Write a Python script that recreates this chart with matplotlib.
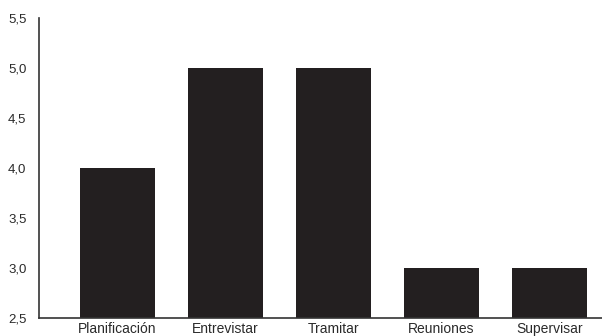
import matplotlib
matplotlib.use("Agg")
import matplotlib.pyplot as plt

categories = ["Planificación", "Entrevistar", "Tramitar", "Reuniones", "Supervisar"]
values = [4.0, 5.0, 5.0, 3.0, 3.0]
yticks = [2.5, 3.0, 3.5, 4.0, 4.5, 5.0, 5.5]
ytick_labels = ["2,5", "3,0", "3,5", "4,0", "4,5", "5,0", "5,5"]

plt.rcParams["font.family"] = ["Liberation Sans", "DejaVu Sans"]

fig = plt.figure(figsize=(6.02, 3.36), dpi=100)
ax = fig.add_axes([39 / 602, 18 / 336, 1 - 39 / 602, 300 / 336])

x = list(range(len(categories)))
ax.bar(x, [v - 2.5 for v in values], bottom=2.5, width=0.694, color="#231f20")

ax.set_ylim(2.5, 5.5)
ax.set_xlim(-0.727, 4.486)
ax.set_yticks(yticks)
ax.set_yticklabels(ytick_labels, fontsize=9.5, color="#2a2a2a")
ax.set_xticks(x)
ax.set_xticklabels(categories, fontsize=10, color="#2a2a2a")
ax.tick_params(axis="y", length=0, pad=9)
ax.tick_params(axis="x", length=0, pad=3)

for side in ("top", "right"):
    ax.spines[side].set_visible(False)
for side in ("left", "bottom"):
    ax.spines[side].set_color("#333333")
    ax.spines[side].set_linewidth(1.2)

fig.savefig("out.png", dpi=100)
